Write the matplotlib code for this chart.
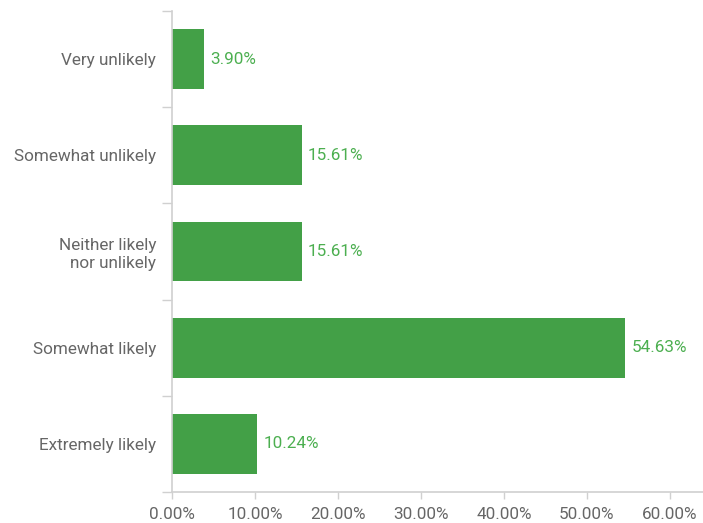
import matplotlib
matplotlib.use("Agg")
import matplotlib.pyplot as plt
from matplotlib.ticker import FuncFormatter, FixedLocator

categories = ["Very unlikely", "Somewhat unlikely", "Neither likely\nnor unlikely",
              "Somewhat likely", "Extremely likely"]
values = [3.90, 15.61, 15.61, 54.63, 10.24]
x_ticks = [0, 10, 20, 30, 40, 50, 60]

bar_color = "#43a047"
label_color = "#4caf50"
text_color = "#666666"
axis_color = "#d0d0d0"

plt.rcParams["font.family"] = ["Roboto", "DejaVu Sans"]

fig = plt.figure(figsize=(7.03, 5.23), dpi=100)
ax = fig.add_axes([172 / 703, 1 - 492 / 523, 531 / 703, 481 / 523])

y = list(range(len(categories)))
ax.barh(y, values, height=0.62, color=bar_color, edgecolor="none")

for yi, v in zip(y, values):
    ax.annotate(f"{v:.2f}%", (v, yi), xytext=(4.5, 0), textcoords="offset points",
                va="center", ha="left", color=label_color, fontsize=12.3)

ax.set_ylim(len(categories) - 0.5, -0.5)
ax.set_xlim(0, 64)

ax.set_yticks(y)
ax.set_yticklabels(categories, fontsize=12.3, color=text_color, ha="right",
                   linespacing=1.25)
ax.tick_params(axis="y", which="major", length=0, pad=11.5)
ax.yaxis.set_minor_locator(FixedLocator([k - 0.5 for k in range(len(categories) + 1)]))
ax.tick_params(axis="y", which="minor", length=7, color=axis_color, width=1)

ax.set_xticks(x_ticks)
ax.xaxis.set_major_formatter(FuncFormatter(lambda v, p: f"{v:.2f}%"))
ax.tick_params(axis="x", length=5, color=axis_color, width=1, labelsize=12.3,
               labelcolor=text_color, pad=6)

for side in ["top", "right"]:
    ax.spines[side].set_visible(False)
for side in ["left", "bottom"]:
    ax.spines[side].set_color(axis_color)
    ax.spines[side].set_linewidth(1.2)

fig.savefig("out.png", dpi=100, facecolor="white")
